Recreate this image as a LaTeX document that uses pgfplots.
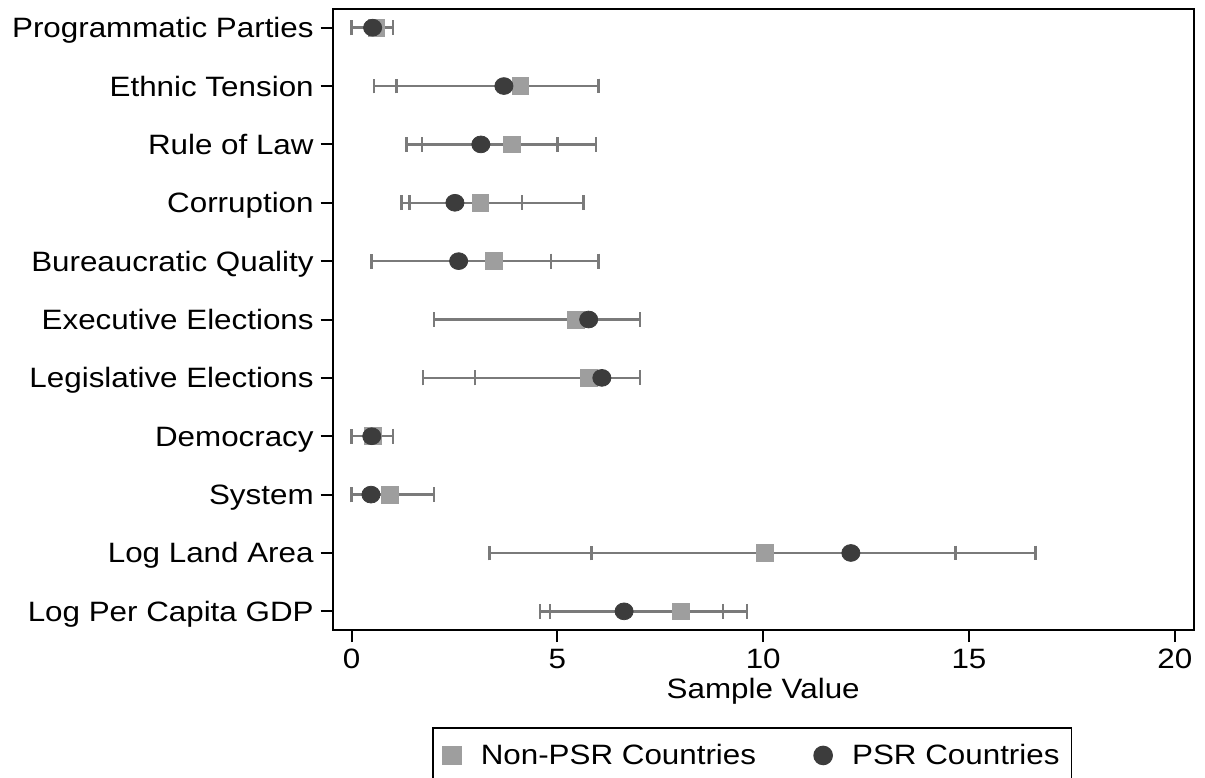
\documentclass[border=0pt]{standalone}
\usepackage{fontspec}
\setmainfont{Liberation Sans}[FakeStretch=1.12]
\usepackage{pgfplots}
\usepackage{pgfplotstable}
\pgfplotsset{compat=1.18}
\definecolor{errgray}{HTML}{7A7A7A}
\definecolor{sqgray}{HTML}{9E9E9E}
\definecolor{circdark}{HTML}{3C3C3C}
\pgfplotstableread{
y psr psrlo psrhi non nonlo nonhi
0 0.51 0 1 0.60 0 1
1 3.70 0.55 6.00 4.10 1.09 6.00
2 3.14 1.71 5.00 3.89 1.33 5.94
3 2.51 1.41 4.14 3.13 1.21 5.63
4 2.60 0.48 4.85 3.46 0.48 6.00
5 5.76 2.00 7.00 5.44 2.00 7.00
6 6.08 3.00 7.00 5.76 1.73 7.00
7 0.49 0 1 0.52 0 1
8 0.47 0 2 0.93 0 2
9 12.13 5.83 14.67 10.05 3.35 16.62
10 6.62 4.82 9.03 8.01 4.57 9.60
}\data
\begin{document}
\begin{tikzpicture}
\begin{axis}[
  name=ax,
  scale only axis,
  width=430.5pt, height=310.5pt,
  xmin=-0.46, xmax=20.46,
  ymin=-0.32, ymax=10.32,
  y dir=reverse,
  xtick={0,5,10,15,20},
  ytick={0,1,2,3,4,5,6,7,8,9,10},
  yticklabels={Programmatic Parties,Ethnic Tension,Rule of Law,Corruption,Bureaucratic Quality,Executive Elections,Legislative Elections,Democracy,System,Log Land Area,Log Per Capita GDP},
  tick pos=left,
  tick align=outside,
  major tick length=6pt,
  axis line style={line width=1pt, black},
  every tick/.style={line width=1pt, black},
  /pgf/number format/assume math mode=true,
  tick label style={font=\fontsize{14}{16}\selectfont},
  yticklabel style={anchor=base east, yshift=-5pt},
  xlabel={Sample Value},
  xlabel style={font=\fontsize{14}{16}\selectfont, yshift=2pt},
  legend columns=2,
  legend style={at={(axis description cs:0.1153,-0.1562)}, anchor=north west,
    draw=black, line width=0.8pt, font=\fontsize{14}{16}\selectfont,
    inner xsep=5pt, inner ysep=6pt,
    nodes={inner xsep=1pt},
    /tikz/every odd column/.append style={column sep=9pt},
    /tikz/every even column/.append style={column sep=28pt}},
]
\addplot[forget plot, only marks, mark=none,
  error bars/.cd, x dir=both, x explicit, error mark=|,
  error bar style={line width=1.2pt, color=errgray},
  error mark options={line width=1.2pt, color=errgray, mark size=3.7pt}]
  table[x=non, y=y, x error plus expr=\thisrow{nonhi}-\thisrow{non}, x error minus expr=\thisrow{non}-\thisrow{nonlo}] {\data};
\addplot[forget plot, only marks, mark=none,
  error bars/.cd, x dir=both, x explicit, error mark=|,
  error bar style={line width=1.2pt, color=errgray},
  error mark options={line width=1.2pt, color=errgray, mark size=3.7pt}]
  table[x=psr, y=y, x error plus expr=\thisrow{psrhi}-\thisrow{psr}, x error minus expr=\thisrow{psr}-\thisrow{psrlo}] {\data};
\addplot[forget plot, only marks, mark=square*, mark size=4.2pt, color=sqgray]
  table[x=non, y=y] {\data};
\addplot[forget plot, only marks, mark=*, mark size=4.2pt, color=circdark, mark options={xscale=1.08}]
  table[x=psr, y=y] {\data};
\addlegendimage{only marks, mark=square*, mark size=4.5pt, color=sqgray}
\addlegendentry{Non-PSR Countries}
\addlegendimage{only marks, mark=*, mark size=4.5pt, color=circdark}
\addlegendentry{PSR Countries}
\coordinate (O) at (rel axis cs:0,0);
\end{axis}
\pgfresetboundingbox
\path[use as bounding box] ([xshift=-166.35pt,yshift=-73.5pt]O) rectangle ++(602.5pt,388.5pt);
\end{tikzpicture}
\end{document}
